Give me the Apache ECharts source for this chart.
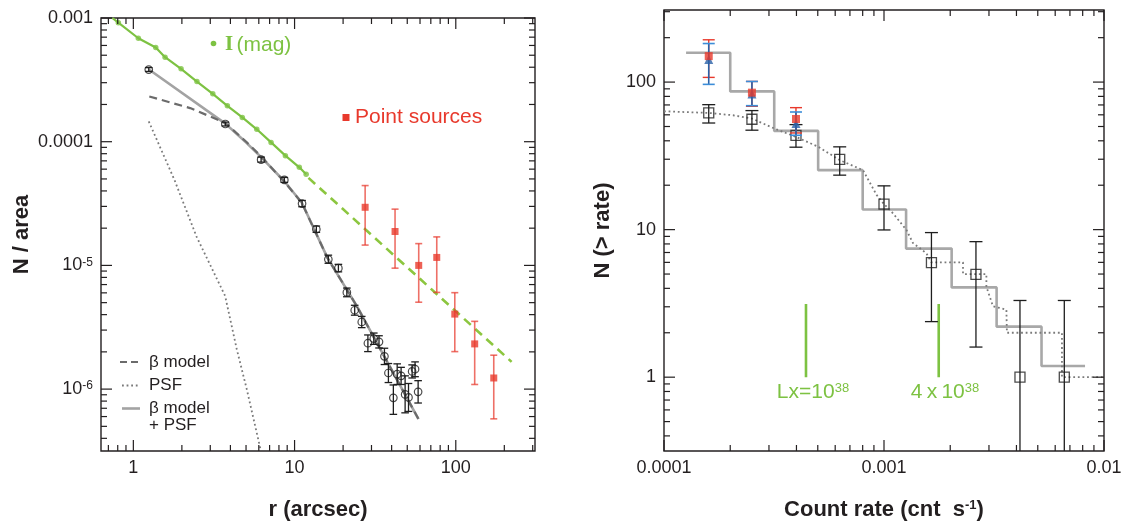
<!DOCTYPE html>
<html>
<head>
<meta charset="utf-8">
<script src="https://cdn.jsdelivr.net/npm/echarts@6.0.0/dist/echarts.min.js"></script>
<style>
  html, body { margin: 0; padding: 0; background: #fff; }
  #chart { width: 1128px; height: 526px; }
</style>
</head>
<body>
<div id="chart"></div>
<script>
// ---------- Left panel: radial surface density profile ----------
// I-band light profile (filled green dots) and its solid line
const galR = [0.807, 1.074, 1.377, 1.573, 1.977, 2.48, 3.11, 3.83, 4.74, 5.83, 7.15, 8.77, 10.7, 11.8];
const galN = [9.17e-4, 6.86e-4, 5.77e-4, 4.82e-4, 3.88e-4, 3.06e-4, 2.44e-4, 1.95e-4, 1.57e-4, 1.26e-4, 9.87e-5, 7.71e-5, 6.21e-5, 5.45e-5];
const galLineR = [0.741].concat(galR);
const galLineN = [1.0e-3].concat(galN);
// extrapolation of the light profile (green dashed)
const galExtR = [12.2, 222];
const galExtN = [5.1e-5, 1.66e-6];

// point sources (red squares with error bars)
const psR = [27.4, 42.0, 58.9, 76.2, 98.6, 131, 172];
const psN = [2.95e-5, 1.88e-5, 1.0e-5, 1.16e-5, 4.04e-6, 2.32e-6, 1.23e-6];
const psLo = [1.46e-5, 9.5e-6, 5.04e-6, 6.05e-6, 2.01e-6, 1.09e-6, 5.75e-7];
const psHi = [4.42e-5, 2.85e-5, 1.50e-5, 1.70e-5, 6.02e-6, 3.53e-6, 1.88e-6];

// X-ray surface brightness profile (open circles with error bars)
const xR = [1.246, 3.72, 6.20, 8.64, 11.13, 13.65, 16.2, 18.7, 21.1, 23.6, 26.1, 28.5, 31.0, 33.4, 36.1, 38.2, 41.0, 43.3, 45.8, 48.5, 50.9, 53.6, 55.9, 58.4];
const xN = [3.83e-4, 1.39e-4, 7.16e-5, 4.91e-5, 3.16e-5, 1.96e-5, 1.12e-5, 9.5e-6, 6.05e-6, 4.34e-6, 3.49e-6, 2.35e-6, 2.56e-6, 2.41e-6, 1.84e-6, 1.35e-6, 8.5e-7, 1.32e-6, 1.28e-6, 9.06e-7, 8.57e-7, 1.39e-6, 1.45e-6, 9.5e-7];
const xLo = [3.70e-4, 1.34e-4, 6.84e-5, 4.69e-5, 2.98e-5, 1.85e-5, 1.04e-5, 8.87e-6, 5.58e-6, 3.96e-6, 3.14e-6, 2.01e-6, 2.30e-6, 2.15e-6, 1.58e-6, 1.13e-6, 6.25e-7, 1.09e-6, 1.09e-6, 6.43e-7, 6.6e-7, 1.23e-6, 1.26e-6, 7.72e-7];
const xHi = [3.97e-4, 1.44e-4, 7.50e-5, 5.14e-5, 3.35e-5, 2.08e-5, 1.21e-5, 1.02e-5, 6.56e-6, 4.76e-6, 3.87e-6, 2.74e-6, 2.84e-6, 2.70e-6, 2.14e-6, 1.61e-6, 1.08e-6, 1.60e-6, 1.50e-6, 1.28e-6, 1.11e-6, 1.57e-6, 1.66e-6, 1.17e-6];

// model curves
const betaPsfR = [1.25, 3.72, 5.05, 6.2, 8.64, 11.1, 16.0, 24.3, 58.7];
const betaPsfN = [3.83e-4, 1.40e-4, 9.75e-5, 7.5e-5, 4.79e-5, 3.21e-5, 1.15e-5, 4.70e-6, 5.73e-7];
const betaR = [1.256, 2.25, 3.72, 5.05, 6.2, 8.64, 11.1, 16.0, 24.3, 58.7];
const betaN = [2.32e-4, 1.87e-4, 1.42e-4, 9.9e-5, 7.6e-5, 4.75e-5, 3.2e-5, 1.15e-5, 4.7e-6, 5.73e-7];
const psfR = [1.246, 1.8, 2.47, 3.71, 4.38, 5.05, 6.17];
const psfN = [1.46e-4, 4.9e-5, 1.7e-5, 5.66e-6, 2.10e-6, 1.0e-6, 3.2e-7];

// axis ranges and tick labels
const leftXRange = [0.63, 310];
const leftYRange = [3.16e-7, 1e-3];
const leftXTickValues = [1, 10, 100];
const leftXTickLabels = ['1', '10', '100'];
const leftYTickValues = [1e-3, 1e-4, 1e-5, 1e-6];
const leftYTickLabels = ['0.001', '0.0001', '{b|10}{s|-5}', '{b|10}{s|-6}'];

// ---------- Right panel: cumulative count-rate distribution ----------
const rate = [1.597e-4, 2.51e-4, 3.98e-4, 6.29e-4, 1.0e-3, 1.643e-3, 2.618e-3, 4.15e-3, 6.6e-3];
const nObs = [61.8, 56.0, 43.6, 29.9, 14.9, 5.98, 4.97, 1.0, 1.0];
const nObsLo = [52.8, 47.2, 36.2, 23.4, 9.95, 2.38, 1.60, 0.05, 0.05];
const nObsHi = [70.3, 64.1, 51.5, 36.4, 19.8, 9.55, 8.29, 3.31, 3.31];

const rateCorr = [1.597e-4, 2.51e-4, 3.98e-4];
const nRed = [150, 84.8, 56.2];
const nRedLo = [107.6, 68.5, 45.2];
const nRedHi = [193.5, 101, 67.1];
const nBlue = [142, 83, 52.4];
const nBlueLo = [96.5, 69.2, 43.6];
const nBlueHi = [182.5, 101, 62.7];

// model histogram (solid gray steps)
const stepEdges = [1.26e-4, 2.0e-4, 3.17e-4, 5.02e-4, 8.0e-4, 1.26e-3, 2.03e-3, 3.25e-3, 5.2e-3, 8.2e-3];
const stepLevels = [158, 86.5, 46.7, 25.3, 13.7, 7.44, 4.06, 2.20, 1.19];

// cumulative source counts (dotted gray)
const cumRate = [1.0e-4, 1.597e-4, 2.06e-4, 2.51e-4, 3.18e-4, 3.98e-4, 5.03e-4, 6.29e-4, 8.03e-4, 9.25e-4, 1.0e-3, 1.099e-3, 1.265e-3, 1.355e-3, 1.453e-3, 1.559e-3, 1.643e-3, 2.286e-3, 2.286e-3, 2.92e-3, 2.92e-3, 3.13e-3, 3.6e-3, 3.62e-3, 6.44e-3, 6.44e-3, 1.0e-2];
const cumN = [63.4, 61.8, 59.6, 56.6, 48.4, 42.5, 36.4, 29.6, 25.3, 17.2, 14.9, 12.9, 9.95, 8.1, 7.5, 6.9, 6.0, 6.0, 5.0, 5.0, 4.1, 3.02, 2.87, 2.0, 2.0, 1.0, 1.0];

// luminosity markers
const lxRate = [4.42e-4, 1.773e-3];
const lxSpan = [1.0, 3.13];

const rightXRange = [1e-4, 1e-2];
const rightYRange = [0.316, 308];
const rightXTickValues = [1e-4, 1e-3, 1e-2];
const rightXTickLabels = ['0.0001', '0.001', '0.01'];
const rightYTickValues = [1, 10, 100];
const rightYTickLabels = ['1', '10', '100'];

// ---------- helpers ----------
const FONT = '"Liberation Sans", Arial, Helvetica, sans-serif';
const INK = '#231f20';
const GREEN = '#7dc242';
const RED = '#e8392c';
const BLUE = '#2a62a8';
const DOT = '#7a7a7a';

const zip = (a, b) => a.map((v, i) => [v, b[i]]);
const zip3 = (a, b, c) => a.map((v, i) => [v, b[i], c[i]]);

function labelFormatter(values, labels) {
  return function (v) {
    const lv = Math.log10(v);
    for (let i = 0; i < values.length; i++) {
      if (Math.abs(lv - Math.log10(values[i])) < 1e-6) return labels[i];
    }
    return '';
  };
}

// 1..9 x 10^k tick positions inside a range; flag 1 for decade ticks
function logTicks(range) {
  const out = [];
  const e0 = Math.floor(Math.log10(range[0])) - 1;
  const e1 = Math.ceil(Math.log10(range[1])) + 1;
  for (let e = e0; e <= e1; e++) {
    for (let m = 1; m <= 9; m++) {
      const v = m * Math.pow(10, e);
      if (v >= range[0] * 0.9999 && v <= range[1] * 1.0001) out.push([v, m === 1 ? 1 : 0]);
    }
  }
  return out;
}

const MAJOR = 11, MINOR = 6;
function tickLine(x1, y1, x2, y2) {
  return { type: 'line', shape: { x1, y1, x2, y2 }, style: { stroke: INK, lineWidth: 1.2 } };
}
// ticks on bottom and top edges
function xTickSeries(gi, xRange, yRange) {
  return {
    type: 'custom', xAxisIndex: gi, yAxisIndex: gi, silent: true, z: 5,
    data: logTicks(xRange).map(t => [t[0], yRange[0], t[1]]),
    encode: { x: 0, y: 1 },
    renderItem: function (params, api) {
      const cs = params.coordSys;
      const x = api.coord([api.value(0), yRange[0]])[0];
      const len = api.value(2) ? MAJOR : MINOR;
      const b = cs.y + cs.height, t = cs.y;
      return { type: 'group', children: [tickLine(x, b, x, b - len), tickLine(x, t, x, t + len)] };
    }
  };
}
// ticks on left and right edges
function yTickSeries(gi, xRange, yRange) {
  return {
    type: 'custom', xAxisIndex: gi, yAxisIndex: gi, silent: true, z: 5,
    data: logTicks(yRange).map(t => [xRange[0], t[0], t[1]]),
    encode: { x: 0, y: 1 },
    renderItem: function (params, api) {
      const cs = params.coordSys;
      const y = api.coord([xRange[0], api.value(1)])[1];
      const len = api.value(2) ? MAJOR : MINOR;
      const l = cs.x, r = cs.x + cs.width;
      return { type: 'group', children: [tickLine(l, y, l + len, y), tickLine(r, y, r - len, y)] };
    }
  };
}
// vertical error bars with caps
function errorSeries(gi, data, color, cap, width, capColor, z) {
  return {
    type: 'custom', xAxisIndex: gi, yAxisIndex: gi, silent: true, clip: true, z: z || 3,
    data: data, encode: { x: 0, y: [1, 2] },
    renderItem: function (params, api) {
      const lo = api.coord([api.value(0), api.value(1)]);
      const hi = api.coord([api.value(0), api.value(2)]);
      const cc = capColor || color;
      return {
        type: 'group', children: [
          { type: 'line', shape: { x1: lo[0], y1: lo[1], x2: hi[0], y2: hi[1] }, style: { stroke: color, lineWidth: width } },
          { type: 'line', shape: { x1: lo[0] - cap, y1: lo[1], x2: lo[0] + cap, y2: lo[1] }, style: { stroke: cc, lineWidth: width } },
          { type: 'line', shape: { x1: hi[0] - cap, y1: hi[1], x2: hi[0] + cap, y2: hi[1] }, style: { stroke: cc, lineWidth: width } }
        ]
      };
    }
  };
}

function logAxis(gi, range, values, labels, name, nameGap, extra) {
  return Object.assign({
    gridIndex: gi, type: 'log', logBase: 10, min: range[0], max: range[1],
    axisLine: { show: false }, axisTick: { show: false }, splitLine: { show: false }, minorTick: { show: false },
    axisLabel: {
      formatter: labelFormatter(values, labels), fontSize: 18, color: INK, fontFamily: FONT,
      showMinLabel: true, showMaxLabel: true, margin: 8,
      rich: {
        b: { fontSize: 18, color: INK, fontFamily: FONT },
        s: { fontSize: 12, color: INK, fontFamily: FONT, verticalAlign: 'top' }
      }
    },
    name: name, nameLocation: 'middle', nameGap: nameGap,
    nameTextStyle: { fontSize: 22, fontWeight: 'bold', color: INK, fontFamily: FONT,
      rich: {
        n: { fontSize: 22, fontWeight: 'bold', color: INK, fontFamily: FONT },
        s: { fontSize: 13, fontWeight: 'bold', color: INK, fontFamily: FONT, verticalAlign: 'top' }
      } }
  }, extra || {});
}

// step path from bin edges and levels
const stepPath = [];
stepLevels.forEach((lv, i) => { stepPath.push([stepEdges[i], lv]); stepPath.push([stepEdges[i + 1], lv]); });

const chart = echarts.init(document.getElementById('chart'), null, { renderer: 'canvas' });

const option = {
  backgroundColor: '#ffffff',
  animation: false,
  grid: [
    { left: 101, top: 18, width: 434, height: 434, show: true, borderColor: INK, borderWidth: 1.4, backgroundColor: 'transparent' },
    { left: 664, top: 10, width: 440, height: 442, show: true, borderColor: INK, borderWidth: 1.4, backgroundColor: 'transparent' }
  ],
  xAxis: [
    logAxis(0, leftXRange, leftXTickValues, leftXTickLabels, 'r (arcsec)', 48),
    logAxis(1, rightXRange, rightXTickValues, rightXTickLabels, '{n|Count rate (cnt  s}{s|-1}{n|)}', 48)
  ],
  yAxis: [
    logAxis(0, leftYRange, leftYTickValues, leftYTickLabels, 'N / area', 68, { nameRotate: 90 }),
    logAxis(1, rightYRange, rightYTickValues, rightYTickLabels, 'N (> rate)', 50, { nameRotate: 90 })
  ],
  series: [
    // ----- left panel -----
    xTickSeries(0, leftXRange, leftYRange),
    yTickSeries(0, leftXRange, leftYRange),
    {
      name: 'PSF', type: 'line', xAxisIndex: 0, yAxisIndex: 0, data: zip(psfR, psfN),
      showSymbol: false, symbol: 'none', clip: true, z: 2,
      lineStyle: { color: DOT, width: 1.8, type: [1.8, 2.8] }
    },
    {
      name: 'β model + PSF', type: 'line', xAxisIndex: 0, yAxisIndex: 0, data: zip(betaPsfR, betaPsfN),
      showSymbol: false, symbol: 'none', clip: true, z: 2,
      lineStyle: { color: '#a3a3a3', width: 2.6 }
    },
    {
      name: 'β model', type: 'line', xAxisIndex: 0, yAxisIndex: 0, data: zip(betaR, betaN),
      showSymbol: false, symbol: 'none', clip: true, z: 2,
      lineStyle: { color: '#6b6b6b', width: 2.2, type: [8, 5] }
    },
    {
      name: 'I (mag) extrapolation', type: 'line', xAxisIndex: 0, yAxisIndex: 0, data: zip(galExtR, galExtN),
      showSymbol: false, symbol: 'none', clip: true, z: 2,
      lineStyle: { color: '#8cc63f', width: 2.6, type: [9, 6] }
    },
    {
      name: 'I (mag) line', type: 'line', xAxisIndex: 0, yAxisIndex: 0, data: zip(galLineR, galLineN),
      showSymbol: false, symbol: 'none', clip: true, z: 3,
      lineStyle: { color: GREEN, width: 2.2 }
    },
    {
      name: 'I (mag)', type: 'scatter', xAxisIndex: 0, yAxisIndex: 0, data: zip(galR, galN),
      symbol: 'circle', symbolSize: 5.5, itemStyle: { color: GREEN }, z: 4
    },
    errorSeries(0, zip3(psR, psLo, psHi), 'rgba(232,57,44,0.72)', 3.5, 1.6, null, 3),
    {
      name: 'Point sources', type: 'scatter', xAxisIndex: 0, yAxisIndex: 0, data: zip(psR, psN),
      symbol: 'rect', symbolSize: 7, itemStyle: { color: RED }, z: 4
    },
    errorSeries(0, zip3(xR, xLo, xHi), '#1e1e1e', 3.8, 1.3, null, 4),
    {
      name: 'X-ray profile', type: 'scatter', xAxisIndex: 0, yAxisIndex: 0, data: zip(xR, xN),
      symbol: 'circle', symbolSize: 7.5, itemStyle: { color: 'rgba(255,255,255,0)', borderColor: '#1e1e1e', borderWidth: 1.2 }, z: 4
    },

    // ----- right panel -----
    xTickSeries(1, rightXRange, rightYRange),
    yTickSeries(1, rightXRange, rightYRange),
    {
      name: 'model', type: 'line', xAxisIndex: 1, yAxisIndex: 1, data: stepPath,
      showSymbol: false, symbol: 'none', clip: true, z: 2,
      lineStyle: { color: '#a8a8a8', width: 2.6 }
    },
    {
      name: 'cumulative', type: 'line', xAxisIndex: 1, yAxisIndex: 1, data: zip(cumRate, cumN),
      showSymbol: false, symbol: 'none', clip: true, z: 2,
      lineStyle: { color: DOT, width: 1.8, type: [1.8, 2.8] }
    },
    {
      name: 'Lx=10^38', type: 'line', xAxisIndex: 1, yAxisIndex: 1, data: lxSpan.map(n => [lxRate[0], n]),
      showSymbol: false, symbol: 'none', z: 2, lineStyle: { color: GREEN, width: 2.6 }
    },
    {
      name: '4x10^38', type: 'line', xAxisIndex: 1, yAxisIndex: 1, data: lxSpan.map(n => [lxRate[1], n]),
      showSymbol: false, symbol: 'none', z: 2, lineStyle: { color: GREEN, width: 2.6 }
    },
    errorSeries(1, zip3(rate, nObsLo, nObsHi), '#1e1e1e', 6.5, 1.3, null, 4),
    {
      name: 'observed', type: 'scatter', xAxisIndex: 1, yAxisIndex: 1, data: zip(rate, nObs),
      symbol: 'rect', symbolSize: 10, itemStyle: { color: 'rgba(255,255,255,0)', borderColor: '#1e1e1e', borderWidth: 1.3 }, z: 4
    },
    errorSeries(1, zip3(rateCorr, nRedLo, nRedHi), RED, 6, 1.4, null, 5),
    errorSeries(1, zip3(rateCorr, nBlueLo, nBlueHi), BLUE, 6, 1.6, '#3c8dd8', 5),
    {
      name: 'corrected (triangles)', type: 'scatter', xAxisIndex: 1, yAxisIndex: 1, data: zip(rateCorr, nBlue),
      symbol: 'triangle', symbolSize: 9, itemStyle: { color: BLUE }, z: 6
    },
    {
      name: 'corrected (squares)', type: 'scatter', xAxisIndex: 1, yAxisIndex: 1, data: zip(rateCorr, nRed),
      symbol: 'rect', symbolSize: 8, itemStyle: { color: RED }, z: 7
    }
  ],
  graphic: [
    // "I (mag)" key
    { type: 'circle', shape: { cx: 213.5, cy: 43.5, r: 2.8 }, style: { fill: GREEN } },
    { type: 'text', x: 225, y: 45, style: {
        text: '{i|I} {m|(mag)}', verticalAlign: 'middle', align: 'left',
        rich: {
          i: { fontSize: 21, fontWeight: 'bold', fontFamily: '"Liberation Serif", "Times New Roman", serif', fill: GREEN },
          m: { fontSize: 21, fontFamily: FONT, fill: GREEN }
        } } },
    // "Point sources" key
    { type: 'rect', shape: { x: 342.5, y: 114, width: 7, height: 7 }, style: { fill: RED } },
    { type: 'text', x: 355, y: 117, style: { text: 'Point sources', fontSize: 21, fontFamily: FONT, fill: RED, verticalAlign: 'middle', align: 'left' } },
    // model key
    { type: 'line', shape: { x1: 120, y1: 362, x2: 140, y2: 362 }, style: { stroke: '#6b6b6b', lineWidth: 2.2, lineDash: [7, 4] } },
    { type: 'line', shape: { x1: 122, y1: 385.5, x2: 140, y2: 385.5 }, style: { stroke: DOT, lineWidth: 1.8, lineDash: [1.8, 2.8] } },
    { type: 'line', shape: { x1: 122, y1: 408.5, x2: 140, y2: 408.5 }, style: { stroke: '#a3a3a3', lineWidth: 2.6 } },
    { type: 'text', x: 149, y: 362, style: { text: 'β model', fontSize: 17, fontFamily: FONT, fill: INK, verticalAlign: 'middle' } },
    { type: 'text', x: 149, y: 385.5, style: { text: 'PSF', fontSize: 17, fontFamily: FONT, fill: INK, verticalAlign: 'middle' } },
    { type: 'text', x: 149, y: 408.5, style: { text: 'β model', fontSize: 17, fontFamily: FONT, fill: INK, verticalAlign: 'middle' } },
    { type: 'text', x: 149, y: 425.5, style: { text: '+ PSF', fontSize: 17, fontFamily: FONT, fill: INK, verticalAlign: 'middle' } },
    // luminosity marker captions
    { type: 'text', x: 813, y: 392, style: {
        text: '{a|Lx=10}{s|38}', align: 'center', verticalAlign: 'middle',
        rich: { a: { fontSize: 21, fontFamily: FONT, fill: GREEN }, s: { fontSize: 13, fontFamily: FONT, fill: GREEN, verticalAlign: 'top' } } } },
    { type: 'text', x: 945, y: 392, style: {
        text: '{a|4\u2009x\u200910}{s|38}', align: 'center', verticalAlign: 'middle',
        rich: { a: { fontSize: 21, fontFamily: FONT, fill: GREEN }, s: { fontSize: 13, fontFamily: FONT, fill: GREEN, verticalAlign: 'top' } } } }
  ]
};

chart.setOption(option);
</script>
</body>
</html>
